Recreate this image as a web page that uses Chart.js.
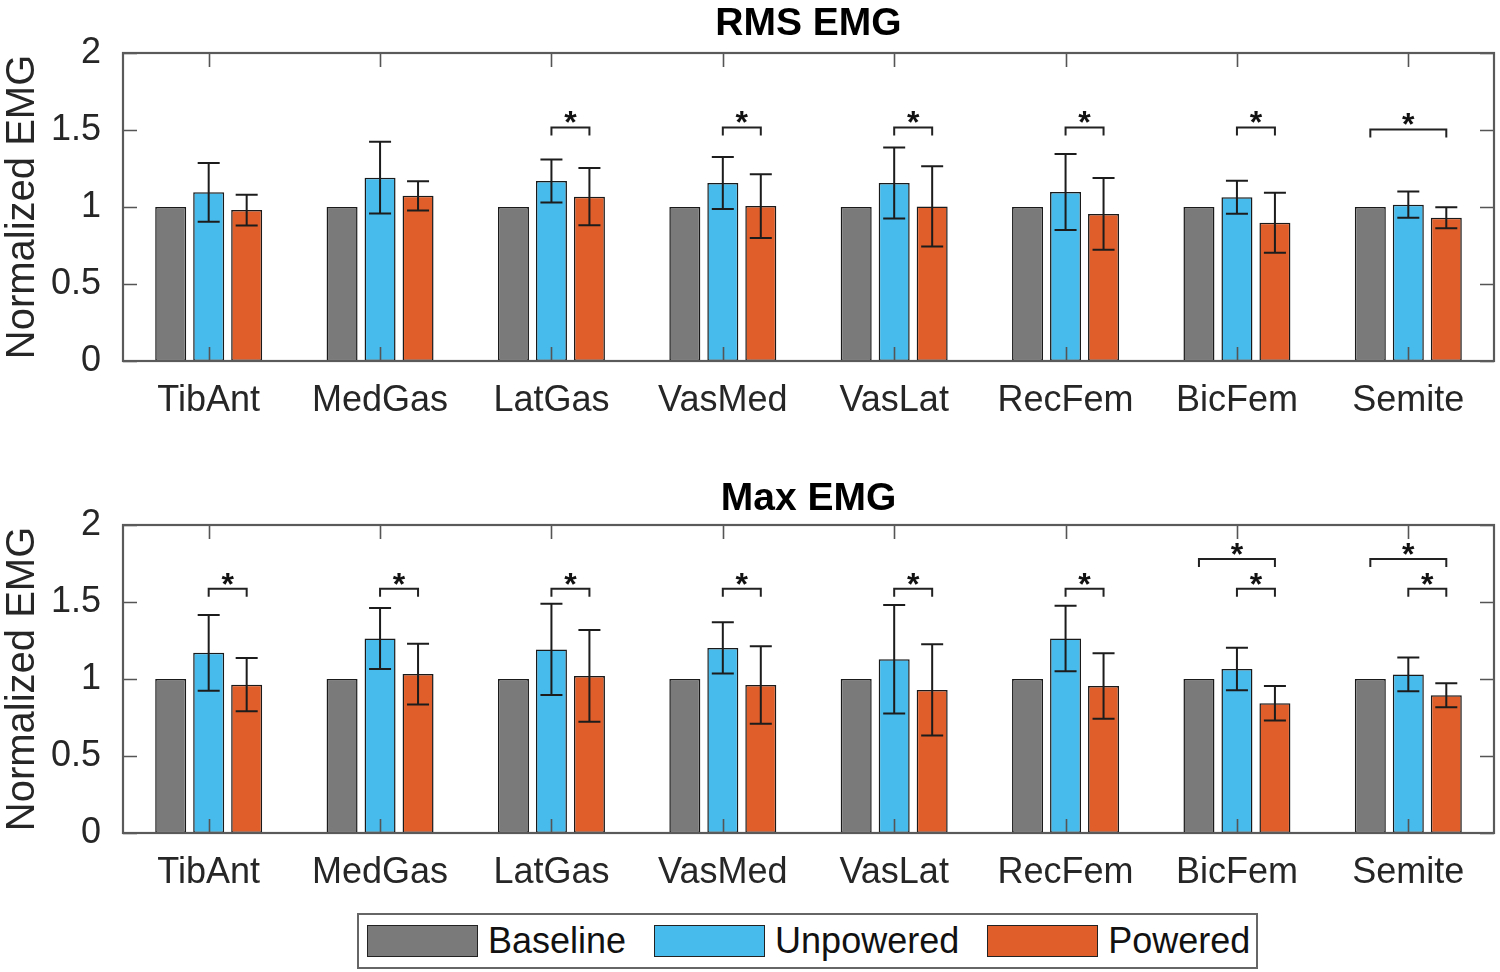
<!DOCTYPE html>
<html><head><meta charset="utf-8">
<script src="https://cdn.jsdelivr.net/npm/chart.js@4.4.1/dist/chart.umd.min.js"></script>
<style>
html,body{margin:0;padding:0;background:#fff;}
body{width:1500px;height:972px;position:relative;overflow:hidden;font-family:'Liberation Sans',Arial,sans-serif;}
.wrap{position:absolute;left:0;width:1500px;height:472px;}
#legend{position:absolute;left:357px;top:913px;width:901px;height:56px;box-sizing:border-box;border:2px solid #666;background:#fff;display:flex;align-items:center;font-size:36px;color:#111;z-index:2;padding-left:8px;}
.sw{width:111px;height:32px;box-sizing:border-box;border:1.5px solid #222;margin-right:10px;flex:none;}
.lt{margin-right:28px;white-space:nowrap;line-height:1;}
</style></head>
<body>
<div class="wrap" style="top:0"><canvas id="c1" width="1500" height="472"></canvas></div>
<div class="wrap" style="top:472px"><canvas id="c2" width="1500" height="472"></canvas></div>
<div id="legend"></div>
<script>
// ---- data ----
const categories = ['TibAnt','MedGas','LatGas','VasMed','VasLat','RecFem','BicFem','Semite'];
const seriesNames = ['Baseline','Unpowered','Powered'];
const yTicks = [0, 0.5, 1, 1.5, 2];
const yTickLabels = ['0', '0.5', '1', '1.5', '2'];

const rmsBaseline   = [1, 1, 1, 1, 1, 1, 1, 1];
const rmsUnpowered  = [1.095, 1.19, 1.169, 1.156, 1.156, 1.097, 1.063, 1.015];
const rmsUnpoweredErr = [0.19, 0.233, 0.14, 0.169, 0.23, 0.247, 0.107, 0.085];
const rmsPowered    = [0.98, 1.073, 1.067, 1.006, 1.004, 0.955, 0.898, 0.93];
const rmsPoweredErr = [0.10, 0.095, 0.186, 0.207, 0.26, 0.233, 0.195, 0.068];
// [category index, from series, to series, bracket level]
const rmsSig = [[2,1,2,1.517],[3,1,2,1.517],[4,1,2,1.517],[5,1,2,1.517],[6,1,2,1.517],[7,0,2,1.504]];

const maxBaseline   = [1, 1, 1, 1, 1, 1, 1, 1];
const maxUnpowered  = [1.17, 1.263, 1.192, 1.202, 1.128, 1.263, 1.065, 1.03];
const maxUnpoweredErr = [0.246, 0.198, 0.296, 0.167, 0.352, 0.213, 0.138, 0.11];
const maxPowered    = [0.963, 1.032, 1.02, 0.961, 0.929, 0.955, 0.843, 0.894];
const maxPoweredErr = [0.173, 0.197, 0.298, 0.252, 0.296, 0.213, 0.112, 0.078];
const maxSig = [[0,1,2,1.586],[1,1,2,1.586],[2,1,2,1.586],[3,1,2,1.586],[4,1,2,1.586],[5,1,2,1.586],
                [6,1,2,1.586],[7,1,2,1.586],[6,0,2,1.779],[7,0,2,1.779]];

// ---- styles ----
const colors = ['#7a7a7a', '#47bbeb', '#df5e2a'];
const FONT = "'Liberation Sans', Arial, sans-serif";

const emgPlugin = {
  id: 'emgExtras',
  afterDatasetsDraw(chart, args, opts) {
    const ctx = chart.ctx, ys = chart.scales.y, xs = chart.scales.x, ca = chart.chartArea;
    ctx.save();
    // axes box and inward ticks
    ctx.strokeStyle = '#555'; ctx.lineWidth = 1.6;
    ctx.beginPath();
    xs.ticks.forEach((t, i) => {
      const px = Math.round(xs.getPixelForTick(i)) + 0.5;
      ctx.moveTo(px, ca.bottom); ctx.lineTo(px, ca.bottom - 14);
      ctx.moveTo(px, ca.top); ctx.lineTo(px, ca.top + 14);
    });
    ys.ticks.forEach((t, i) => {
      const py = Math.round(ys.getPixelForTick(i)) + 0.5;
      ctx.moveTo(ca.left, py); ctx.lineTo(ca.left + 14, py);
      ctx.moveTo(ca.right, py); ctx.lineTo(ca.right - 14, py);
    });
    ctx.stroke();
    ctx.lineWidth = 2.2; ctx.strokeStyle = '#5a5a5a';
    ctx.strokeRect(ca.left, ca.top, ca.right - ca.left, ca.bottom - ca.top);
    // error bars
    ctx.strokeStyle = '#1c1c1c'; ctx.lineWidth = 2;
    opts.errors.forEach((errs, di) => {
      if (!errs) return;
      const meta = chart.getDatasetMeta(di);
      const vals = chart.data.datasets[di].data;
      meta.data.forEach((bar, i) => {
        const yt = ys.getPixelForValue(vals[i] + errs[i]);
        const yb = ys.getPixelForValue(vals[i] - errs[i]);
        ctx.beginPath();
        ctx.moveTo(bar.x, yt); ctx.lineTo(bar.x, yb);
        ctx.moveTo(bar.x - 11, yt); ctx.lineTo(bar.x + 11, yt);
        ctx.moveTo(bar.x - 11, yb); ctx.lineTo(bar.x + 11, yb);
        ctx.stroke();
      });
    });
    // significance brackets
    ctx.strokeStyle = '#222'; ctx.fillStyle = '#111'; ctx.lineWidth = 2;
    ctx.font = 'bold 32px ' + FONT; ctx.textAlign = 'center'; ctx.textBaseline = 'alphabetic';
    opts.sig.forEach(s => {
      const x1 = chart.getDatasetMeta(s[1]).data[s[0]].x;
      const x2 = chart.getDatasetMeta(s[2]).data[s[0]].x;
      const yl = ys.getPixelForValue(s[3]);
      ctx.beginPath();
      ctx.moveTo(x1, yl + 8); ctx.lineTo(x1, yl); ctx.lineTo(x2, yl); ctx.lineTo(x2, yl + 8);
      ctx.stroke();
      ctx.fillText('*', (x1 + x2) / 2, yl - 12 + 18);
    });
    ctx.restore();
  }
};

function makeChart(id, title, titlePad, base, unp, unpErr, pow, powErr, sig) {
  const vals = [base, unp, pow];
  return new Chart(document.getElementById(id), {
    type: 'bar',
    data: {
      labels: categories,
      datasets: seriesNames.map((n, k) => ({
        label: n, data: vals[k], backgroundColor: colors[k],
        borderColor: '#1a1a1a', borderWidth: 1.5, borderSkipped: false,
        categoryPercentage: 0.665, barPercentage: 0.816
      }))
    },
    options: {
      responsive: false, animation: false, devicePixelRatio: 1,
      layout: { padding: { top: 0, right: 6, left: 0, bottom: 0 } },
      plugins: {
        legend: { display: false }, tooltip: { enabled: false },
        title: { display: true, fullSize: false, text: title, color: '#000',
                 font: { family: FONT, size: 39, weight: 'bold', lineHeight: 1.1 },
                 padding: titlePad },
        emgExtras: { errors: [null, unpErr, powErr], sig: sig }
      },
      scales: {
        x: {
          offset: true,
          grid: { display: false }, border: { display: false },
          ticks: { font: { family: FONT, size: 36 }, color: '#262626', padding: 10, maxRotation: 0 },
          afterFit: s => { s.height = 111; }
        },
        y: {
          min: 0, max: 2,
          grid: { display: false }, border: { display: false },
          afterBuildTicks: s => { s.ticks = yTicks.map(v => ({ value: v })); },
          ticks: { font: { family: FONT, size: 36 }, color: '#262626', padding: 14,
                   callback: (v) => yTickLabels[yTicks.indexOf(v)] },
          title: { display: true, text: 'Normalized EMG', color: '#262626',
                   font: { family: FONT, size: 40, lineHeight: 1.15 }, padding: { top: 0, bottom: 0 } },
          afterFit: s => { s.width = 123; }
        }
      }
    },
    plugins: [emgPlugin]
  });
}

makeChart('c1', 'RMS EMG', { top: 2.5, bottom: 7.6 }, rmsBaseline, rmsUnpowered, rmsUnpoweredErr, rmsPowered, rmsPoweredErr, rmsSig);
makeChart('c2', 'Max EMG', { top: 6, bottom: 4.1 }, maxBaseline, maxUnpowered, maxUnpoweredErr, maxPowered, maxPoweredErr, maxSig);

// legend
const lg = document.getElementById('legend');
seriesNames.forEach((n, k) => {
  const sw = document.createElement('div'); sw.className = 'sw'; sw.style.background = colors[k];
  const t = document.createElement('span'); t.className = 'lt'; t.textContent = n;
  if (k === seriesNames.length - 1) t.style.marginRight = '0';
  lg.appendChild(sw); lg.appendChild(t);
});
</script>
</body></html>
